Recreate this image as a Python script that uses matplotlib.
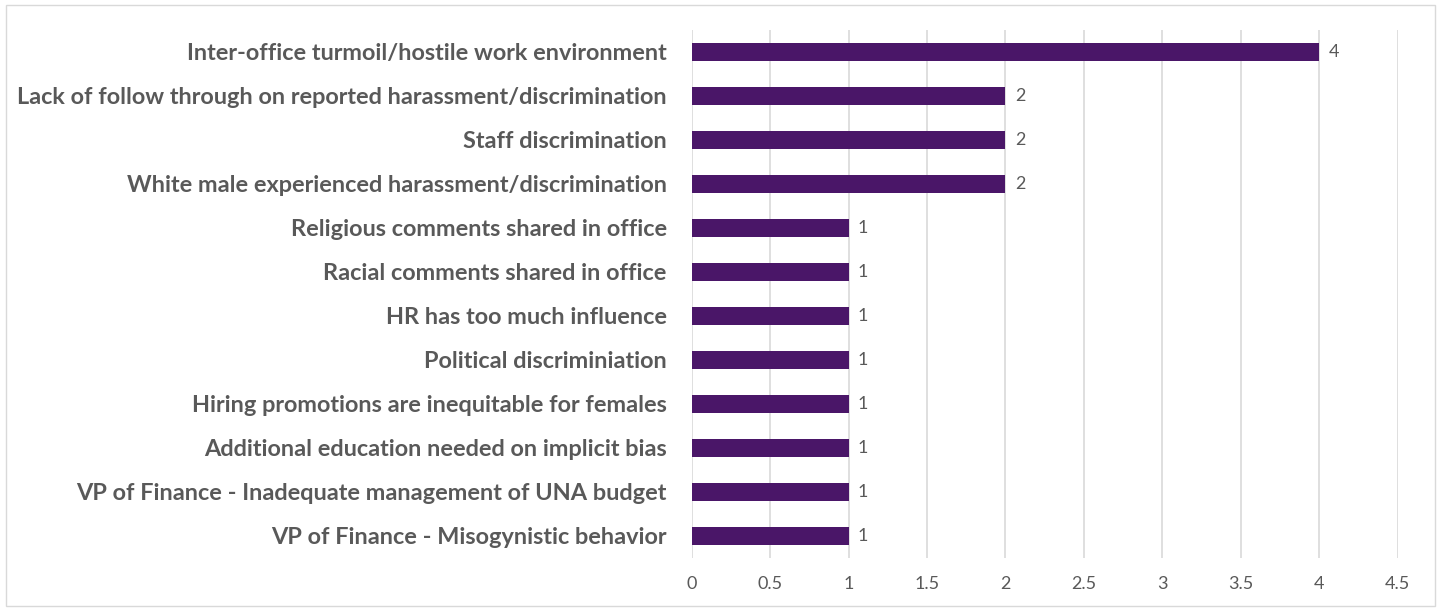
import matplotlib.pyplot as plt
import numpy as np

categories = [
    "Inter-office turmoil/hostile work environment",
    "Lack of follow through on reported harassment/discrimination",
    "Staff discrimination",
    "White male experienced harassment/discrimination",
    "Religious comments shared in office",
    "Racial comments shared in office",
    "HR has too much influence",
    "Political discriminiation",
    "Hiring promotions are inequitable for females",
    "Additional education needed on implicit bias",
    "VP of Finance - Inadequate management of UNA budget",
    "VP of Finance - Misogynistic behavior",
]
counts = [4, 2, 2, 2, 1, 1, 1, 1, 1, 1, 1, 1]
xticks = [0, 0.5, 1, 1.5, 2, 2.5, 3, 3.5, 4, 4.5]

bar_color = "#4a1668"
text_color = "#595959"
grid_color = "#d9d9d9"

plt.rcParams["font.family"] = ["Lato", "DejaVu Sans"]

fig = plt.figure(figsize=(14.41, 6.11), dpi=100)
ax = fig.add_axes([0.480, 0.087, 0.490, 0.864])

y = np.arange(len(categories))[::-1]
ax.barh(y, counts, height=0.42, color=bar_color, zorder=3)
for yi, v in zip(y, counts):
    ax.text(v + 0.06, yi, str(v), va="center", ha="left", fontsize=13, color=text_color)

ax.set_xlim(0, 4.5)
ax.set_ylim(-0.5, len(categories) - 0.5)
ax.set_xticks(xticks)
ax.set_xticklabels([f"{t:g}" for t in xticks], fontsize=13, color=text_color)
ax.set_yticks(y)
ax.set_yticklabels(categories, fontsize=16.9, fontweight="bold", color=text_color)
ax.tick_params(axis="both", length=0)
ax.tick_params(axis="y", pad=18)
ax.tick_params(axis="x", pad=13)
ax.xaxis.grid(True, color=grid_color, linewidth=1.2, zorder=0)
for s in ax.spines.values():
    s.set_visible(False)

# thin border around the whole chart area
fig.patches.append(plt.Rectangle((0.004, 0.008), 0.992, 0.984, transform=fig.transFigure,
                                 fill=False, edgecolor="#d9d9d9", linewidth=1.0))

fig.savefig("out.png", dpi=100)
